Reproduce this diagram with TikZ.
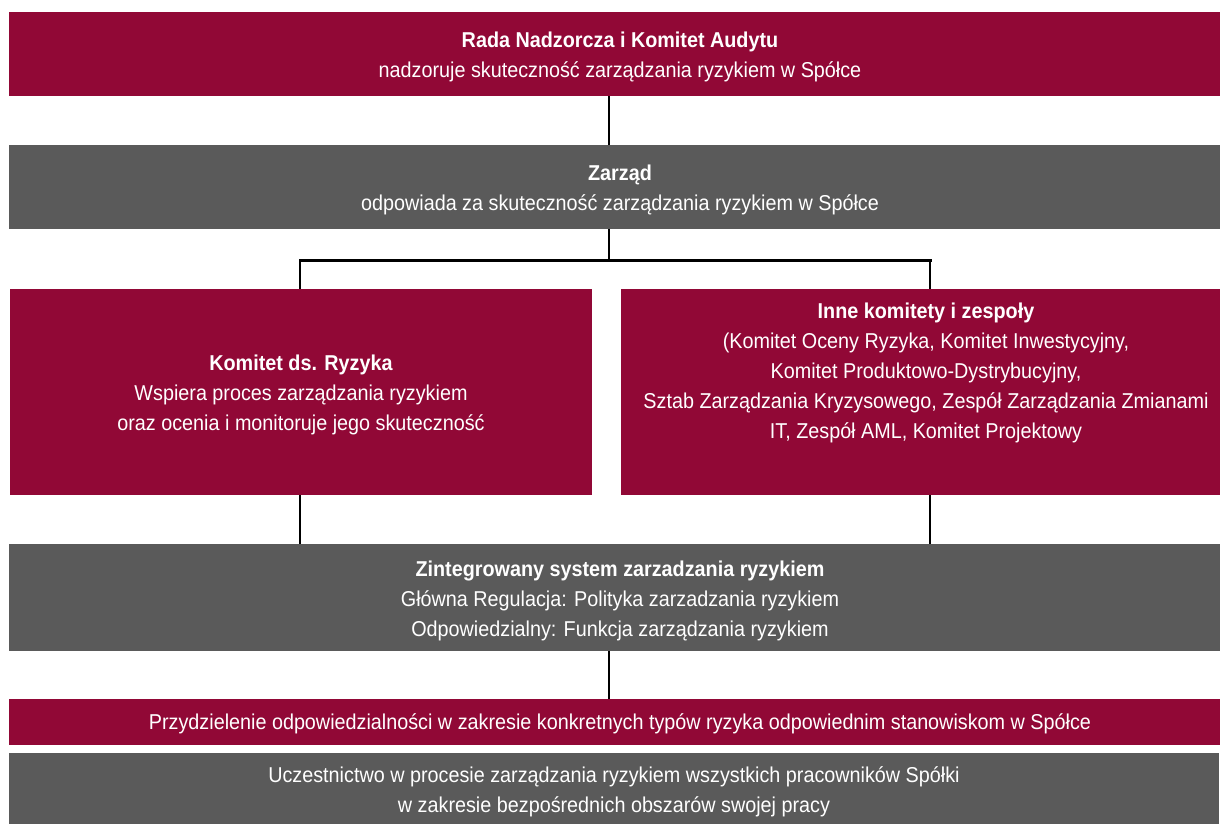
\documentclass[tikz,border=0pt]{standalone}
\usepackage{fontspec}
\setmainfont{Liberation Sans}[FakeStretch=0.92]
\usetikzlibrary{calc}
\definecolor{crim}{RGB}{145,8,54}
\definecolor{dgray}{RGB}{90,90,90}
\newcommand{\Tst}{\rule{0pt}{23pt}}
\newcommand{\Bst}{\rule[-6pt]{0pt}{0pt}}
\tikzset{
  txt/.style={inner sep=0pt, text=white, align=center,
    font=\fontsize{21.5}{30}\selectfont},
  box/.style={txt, rectangle},
  redbox/.style={box, fill=crim},
  graybox/.style={box, fill=dgray},
  conn/.style={draw=black, line width=2.4pt},
  hconn/.style={draw=black, line width=3pt}
}
\begin{document}
\begin{tikzpicture}[x=1pt,y=-1pt]
\useasboundingbox (0,0) rectangle (1220,823);
\node[redbox, minimum width=1222pt, minimum height=84pt] (b1) at (620,54)
  {\Tst\textbf{Rada Nadzorcza i Komitet Audytu}\\nadzoruje skuteczność zarządzania ryzykiem w Spółce\Bst};
\node[graybox, minimum width=1222pt, minimum height=84pt] (b2) at (620,187)
  {\Tst\textbf{Zarząd}\\odpowiada za skuteczność zarządzania ryzykiem w Spółce\Bst};
\node[redbox, minimum width=582pt, minimum height=206pt] (b3l) at (301,392)
  {\Tst\textbf{Komitet ds. Ryzyka}\\Wspiera proces zarządzania ryzykiem\\oraz ocenia i monitoruje jego skuteczność\Bst};
\node[redbox, minimum width=599pt, minimum height=206pt] (b3r) at (920.5,392) {};
\node[txt, anchor=north] (t3r) at ($(b3r.north)+(5.5,6.5)$)
  {\Tst\textbf{Inne komitety i zespoły}\\(Komitet Oceny Ryzyka, Komitet Inwestycyjny,\\Komitet Produktowo-Dystrybucyjny,\\Sztab Zarządzania Kryzysowego, Zespół Zarządzania Zmianami\\IT, Zespół AML, Komitet Projektowy\Bst};
\node[graybox, minimum width=1222pt, minimum height=107pt] (b4) at (620,597.5)
  {\Tst\textbf{Zintegrowany system zarzadzania ryzykiem}\\Główna Regulacja: Polityka zarzadzania ryzykiem\\Odpowiedzialny: Funkcja zarządzania ryzykiem\Bst};
\node[redbox, minimum width=1222pt, minimum height=46pt] (b5) at (620,722)
  {\rule{0pt}{20pt}Przydzielenie odpowiedzialności w zakresie konkretnych typów ryzyka odpowiednim stanowiskom w Spółce};
\node[graybox, minimum width=1210pt, minimum height=72pt] (b6) at (614,789)
  {\Tst Uczestnictwo w procesie zarządzania ryzykiem wszystkich pracowników Spółki\\w zakresie bezpośrednich obszarów swojej pracy\Bst};
\coordinate (jl) at ($(b3l.north)+(-1,-28)$);
\coordinate (jr) at ($(b3r.north)+(9.5,-28)$);
\coordinate (jm) at ($(b2.south)+(-11,33)$);
\draw[conn] ([xshift=-11pt]b1.south) -- ([xshift=-11pt]b2.north);
\draw[conn] ([xshift=-11pt]b2.south) -- (jm);
\draw[hconn, line cap=rect] (jl) -- (jr);
\draw[conn] (jl) -- ([xshift=-1pt]b3l.north);
\draw[conn] (jr) -- ([xshift=9.5pt]b3r.north);
\draw[conn] ([xshift=-1pt]b3l.south) -- ([xshift=-1pt]b3l.south |- b4.north);
\draw[conn] ([xshift=9.5pt]b3r.south) -- ([xshift=9.5pt]b3r.south |- b4.north);
\draw[conn] ([xshift=-11pt]b4.south) -- ([xshift=-11pt]b5.north);
\end{tikzpicture}
\end{document}
